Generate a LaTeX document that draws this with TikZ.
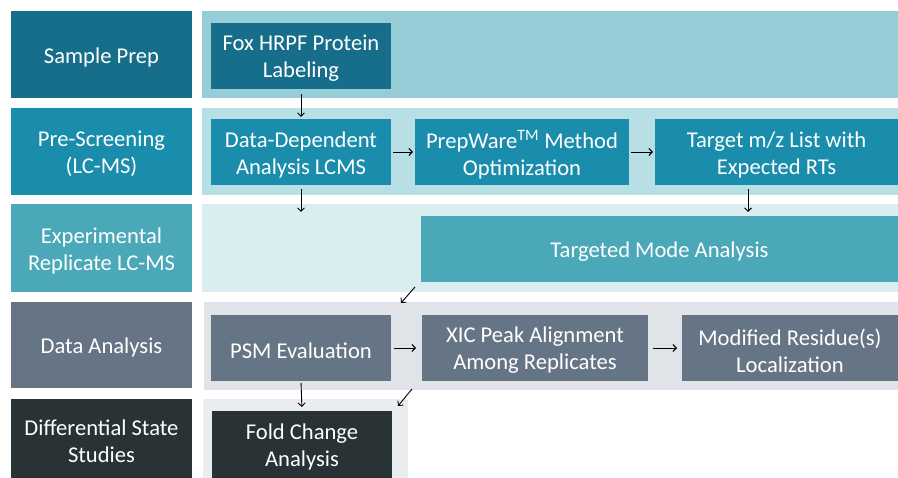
\documentclass[tikz,border=0pt]{standalone}
\usepackage{fontspec}
\setmainfont{Carlito}
\usetikzlibrary{arrows.meta}
\definecolor{cA}{HTML}{166E8A}
\definecolor{cB}{HTML}{1A8DAC}
\definecolor{cC}{HTML}{4AA8B8}
\definecolor{cD}{HTML}{667585}
\definecolor{cE}{HTML}{293235}
\definecolor{bA}{HTML}{96CDD7}
\definecolor{bB}{HTML}{B9DFE6}
\definecolor{bC}{HTML}{DAEEF2}
\definecolor{bD}{HTML}{E0E4E8}
\definecolor{bE}{HTML}{EAEDEF}
\tikzset{
  blk/.style={anchor=north west, inner sep=0pt, outer sep=0pt, draw=none},
  lbl/.style={inner sep=0pt, text=white, align=center, yshift=-2.5pt,
    font=\fontsize{22.6}{27}\selectfont},
  band/.style={anchor=north west, inner sep=0pt, outer sep=0pt, draw=none},
  arr/.style={-{Straight Barb[length=3.5pt,width=7pt]}, line width=0.9pt, black},
}
\newcommand{\blkat}[7]{% name, x1,y1,x2,y2, fill, text
  \node[blk, fill=#6, minimum width={(#4-#2)*1pt}, minimum height={(#5-#3)*1pt}] (#1) at (#2,#3) {};
  \node[lbl] (#1-t) at (#1.center) {#7};}
\newcommand{\bandat}[6]{%
  \node[band, fill=#6, minimum width={(#4-#2)*1pt}, minimum height={(#5-#3)*1pt}] (#1) at (#2,#3) {};}
\begin{document}
\begin{tikzpicture}[x=1pt,y=-1pt]
\useasboundingbox (0,0) rectangle (898,478);
\fill[white] (0,0) rectangle (898,478);
% bands
\bandat{bandA}{202}{11}{898}{98}{bA}
\bandat{bandB}{202}{108}{898}{195}{bB}
\bandat{bandC}{202}{204}{898}{292}{bC}
\bandat{bandD}{204}{302}{898}{390}{bD}
\bandat{bandE}{203}{399}{408}{478}{bE}
% left column
\blkat{sp}{11}{11}{192}{98}{cA}{Sample Prep}
\blkat{ps}{11}{108}{192}{195}{cB}{Pre-Screening\\(LC-MS)}
\blkat{er}{11}{204}{192}{292}{cC}{Experimental\\Replicate LC-MS}
\blkat{da}{11}{302}{192}{388}{cD}{Data Analysis}
\blkat{ds}{11}{399}{192}{478}{cE}{Differential State\\Studies}
% inner boxes
\blkat{fox}{211}{23}{391}{89}{cA}{Fox HRPF Protein\\Labeling}
\blkat{dda}{211}{119}{391}{185}{cB}{Data-Dependent\\Analysis LCMS}
\blkat{pw}{415}{119}{629}{185}{cB}{PrepWare\textsuperscript{TM} Method\\Optimization}
\blkat{tgt}{655}{119}{898}{185}{cB}{Target m/z List with\\Expected RTs}
\blkat{tma}{421}{216}{898}{282}{cC}{Targeted Mode Analysis}
\blkat{psm}{211}{315}{391}{381}{cD}{PSM Evaluation}
\blkat{xic}{422}{315}{648}{381}{cD}{XIC Peak Alignment\\Among Replicates}
\blkat{mod}{682}{315}{898}{381}{cD}{Modified Residue(s)\\Localization}
\blkat{fold}{212}{411}{392}{478}{cE}{Fold Change\\Analysis}
% free ends
\coordinate (ddaEnd) at (301,212);
\coordinate (tgtStart) at (748,189);
\coordinate (diag1s) at (415,287);
\coordinate (diag1e) at (401,303);
\coordinate (diag2s) at (412,389);
\coordinate (diag2e) at (398,406);
% arrows
\draw[arr, shorten <=5pt, shorten >=2pt] (fox.south) -- (dda.north);
\draw[arr, shorten <=2pt, shorten >=2pt] (dda.east) -- (pw.west);
\draw[arr, shorten <=2pt, shorten >=2pt] (pw.east) -- (tgt.west);
\draw[arr, shorten <=4pt] (dda.south) -- (ddaEnd);
\draw[arr, shorten >=4pt] (tgtStart) -- (tgtStart |- tma.north);
\draw[arr] (diag1s) -- (diag1e);
\draw[arr, shorten <=3pt, shorten >=6pt] (psm.east) -- (xic.west);
\draw[arr, shorten <=5pt, shorten >=5pt] (xic.east) -- (mod.west);
\draw[arr, shorten <=2pt, shorten >=4pt] (psm.south) -- (fold.north);
\draw[arr] (diag2s) -- (diag2e);
\end{tikzpicture}
\end{document}
